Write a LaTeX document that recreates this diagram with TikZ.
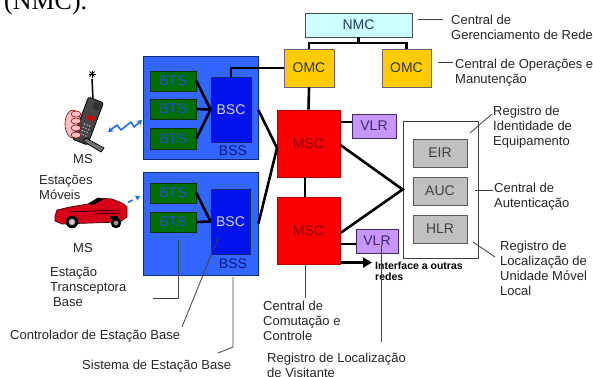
\documentclass[tikz,border=0pt]{standalone}
\usepackage{fontspec}
\setmainfont{Liberation Sans}
\newfontfamily\serifnm{Liberation Serif}
\usetikzlibrary{arrows.meta}
\definecolor{bssblue}{RGB}{51,102,255}
\definecolor{bssedge}{RGB}{20,40,120}
\definecolor{btsgreen}{RGB}{0,110,0}
\definecolor{btsedge}{RGB}{0,50,0}
\definecolor{btstext}{RGB}{40,80,200}
\definecolor{bscblue}{RGB}{0,20,235}
\definecolor{bsctext}{RGB}{215,215,255}
\definecolor{bsslabel}{RGB}{10,20,130}
\definecolor{mscred}{RGB}{250,0,0}
\definecolor{msctext}{RGB}{140,0,0}
\definecolor{vlrpurple}{RGB}{200,150,255}
\definecolor{vlrtext}{RGB}{60,40,110}
\definecolor{omcgold}{RGB}{255,204,0}
\definecolor{nmccyan}{RGB}{204,255,255}
\definecolor{nmctext}{RGB}{30,60,90}
\definecolor{regray}{RGB}{192,192,192}
\definecolor{boltblue}{RGB}{30,110,235}
\definecolor{phonegray}{RGB}{70,70,70}
\definecolor{handpink}{RGB}{250,190,195}
\definecolor{carred}{RGB}{215,0,25}
\tikzset{
  box/.style={draw, rectangle, inner sep=0pt, line width=0.8pt, font=\fontsize{14}{14}\selectfont},
  conn/.style={line width=2.6pt, black},
  lead/.style={line width=0.8pt, black!75},
  lbl/.style={anchor=north west, inner sep=0pt, align=left, font=\fontsize{13}{15}\selectfont, text=black!85},
  bolt/.style={boltblue, line width=1.6pt, line join=round},
}
\begin{document}
\begin{tikzpicture}[x=1pt,y=-1pt]
\useasboundingbox (0,0) rectangle (593,376);
\fill[white] (0,0) rectangle (593,376);

% cut-off heading text
\node[anchor=base west, inner sep=0pt, font=\serifnm\fontsize{26}{26}\selectfont] (head) at (4,9) {(NMC).};

% ---------- upper BSS ----------
\node[box, fill=bssblue, draw=bssedge, minimum width=115pt, minimum height=103pt] (bss1) at (200.5,107.5) {};
\node[box, fill=btsgreen, draw=btsedge, text=btstext, minimum width=46pt, minimum height=20pt] (bts1a) at (173,81) {BTS};
\node[box, fill=btsgreen, draw=btsedge, text=btstext, minimum width=46pt, minimum height=20pt] (bts1b) at (173,109) {BTS};
\node[box, fill=btsgreen, draw=btsedge, text=btstext, minimum width=46pt, minimum height=21pt] (bts1c) at (173,138.5) {BTS};
\node[box, fill=bscblue, draw=bssedge, text=bsctext, minimum width=40pt, minimum height=65pt] (bsc1) at (231,109.5) {BSC};
\node[inner sep=0pt, text=bsslabel, font=\fontsize{14}{14}\selectfont] (bss1l) at (233,151) {BSS};

% ---------- lower BSS ----------
\node[box, fill=bssblue, draw=bssedge, minimum width=115pt, minimum height=103pt] (bss2) at (200.5,223.5) {};
\node[box, fill=btsgreen, draw=btsedge, text=btstext, minimum width=46pt, minimum height=20pt] (bts2a) at (173,193) {BTS};
\node[box, fill=btsgreen, draw=btsedge, text=btstext, minimum width=46pt, minimum height=20pt] (bts2b) at (173,222) {BTS};
\node[box, fill=bscblue, draw=bssedge, text=bsctext, minimum width=39pt, minimum height=65pt] (bsc2) at (230.5,221.5) {BSC};
\node[inner sep=0pt, text=bsslabel, font=\fontsize{14}{14}\selectfont] (bss2l) at (233,264) {BSS};

% ---------- core ----------
\node[box, fill=nmccyan, draw=black!70, text=nmctext, minimum width=107pt, minimum height=24pt] (nmc) at (358.5,25) {NMC};
\node[box, fill=omcgold, draw=black!60, text=black!80, minimum width=50pt, minimum height=38pt] (omc1) at (309,68) {OMC};
\node[box, fill=omcgold, draw=black!60, text=black!80, minimum width=49pt, minimum height=38pt] (omc2) at (406.5,68) {OMC};
\node[box, fill=mscred, draw=red!70!black, text=msctext, minimum width=63pt, minimum height=67pt] (msc1) at (308.5,143.5) {MSC};
\node[box, fill=mscred, draw=red!70!black, text=msctext, minimum width=63pt, minimum height=67pt] (msc2) at (308.5,230.5) {MSC};
\node[box, fill=vlrpurple, draw=vlrtext, text=vlrtext, minimum width=44pt, minimum height=24pt] (vlr1) at (374,126) {VLR};
\node[box, fill=vlrpurple, draw=vlrtext, text=vlrtext, minimum width=42pt, minimum height=24pt] (vlr2) at (377,241) {VLR};
\node[box, fill=white, draw=black!75, minimum width=75pt, minimum height=137pt] (cont) at (440.5,189.5) {};
\node[box, fill=regray, draw=black!65, text=black!75, minimum width=54pt, minimum height=28pt] (eir) at (440,153) {EIR};
\node[box, fill=regray, draw=black!65, text=black!75, minimum width=54pt, minimum height=28pt] (auc) at (440,191) {AUC};
\node[box, fill=regray, draw=black!65, text=black!75, minimum width=54pt, minimum height=28pt] (hlr) at (440,229) {HLR};

% ---------- thick connectors ----------
\coordinate (nmcbus) at (358.5,43);
\coordinate (J) at (277,148);
\coordinate (ifend) at (372,262.5);
\draw[conn] (nmc.south) -- (nmcbus);
\draw[conn] (omc1.north) |- (nmcbus) -| (omc2.north);
\draw[conn] (bsc1.north) |- (omc1.west);
\draw[conn] (omc1.south) -- (msc1.north);
\draw[conn] ([xshift=-3.5pt]msc1.south) -- ([xshift=-3.5pt]msc2.north);
\draw[conn] (bts1a.east) -- (bsc1.west);
\draw[conn] (bts1b.east) -- (bsc1.west);
\draw[conn] (bts1c.east) -- (bsc1.west);
\draw[conn] (bts2a.east) -- (bsc2.west);
\draw[conn] (bts2b.east) -- (bsc2.west);
\draw[conn, line join=miter] ([yshift=-2.5pt]bss1.east) -- (J) -- (bss2.east);
\draw[conn] ([yshift=4pt]msc1.east |- vlr1.west) -- ([yshift=4pt]vlr1.west);
\draw[conn] ([yshift=-3pt]msc2.east |- vlr2.west) -- ([yshift=-3pt]vlr2.west);
\draw[conn, line join=miter] ([yshift=-1.5pt]msc1.east) -- (cont.west) -- ([yshift=-2.5pt]msc2.east);
\draw[conn, -{Triangle[length=9pt,width=10pt]}] (msc2.east |- ifend) -- (ifend);

% ---------- labels ----------
\node[lbl] (tnmc) at (451,15) {Central de\\Gerenciamento de Rede};
\node[lbl] (tomc) at (455,59) {Central de Operações e\\Manutenção};
\node[lbl] (teir) at (493,106) {Registro de\\Identidade de\\Equipamento};
\node[lbl] (tauc) at (494,183) {Central de\\Autenticação};
\node[lbl] (thlr) at (500,241) {Registro de\\Localização de\\Unidade Móvel\\Local};
\node[lbl, font=\fontsize{10.5}{11}\selectfont\bfseries, text=black] (tif) at (375,262) {Interface a outras\\redes};
\node[lbl] (tmsc) at (263,301) {Central de\\Comutação e\\Controle};
\node[lbl] (tvlr) at (267,353) {Registro de Localização\\de Visitante};
\node[lbl] (tbss) at (82,360) {Sistema de Estação Base};
\node[lbl] (tbsc) at (10,330) {Controlador de Estação Base};
\node[lbl] (tbts) at (50,267) {Estação\\Transceptora\\\hspace*{3pt}Base};
\node[lbl] (tms2) at (73,243) {MS};
\node[lbl] (tms1) at (73,154) {MS};
\node[lbl] (tems) at (39,175) {Estações\\Móveis};

% ---------- leader lines ----------
\coordinate (lnmc1) at (418,19); \coordinate (lnmc2) at (443,19);
\coordinate (lomc1) at (438,62); \coordinate (lomc2) at (453,62);
\coordinate (leir1) at (470,133); \coordinate (leir2) at (492,114);
\coordinate (lauc1) at (475,190); \coordinate (lauc2) at (493,190);
\coordinate (lhlr1) at (473,242); \coordinate (lhlr2) at (495,257);
\coordinate (lmsc) at (305,298);
\coordinate (lvlr1) at (381,245); \coordinate (lvlr2) at (381,342);
\coordinate (lbts1) at (178,240); \coordinate (lbts2) at (178,298); \coordinate (lbts3) at (153,298);
\coordinate (lbsc1) at (218,238); \coordinate (lbsc2) at (182,327);
\coordinate (lbss1) at (233,277); \coordinate (lbss2) at (233,347); \coordinate (lbss3) at (218,353);
\draw[lead] (lnmc1) -- (lnmc2);
\draw[lead] (lomc1) -- (lomc2);
\draw[lead] (leir1) -- (leir2);
\draw[lead] (lauc1) -- (lauc2);
\draw[lead] (lhlr1) -- (lhlr2);
\draw[lead] (msc2.south -| lmsc) -- (lmsc);
\draw[lead] (lvlr1) -- (lvlr2);
\draw[lead] (lbts1) -- (lbts2) -- (lbts3);
\draw[lead] (lbsc1) -- (lbsc2);
\draw[lead] (lbss1) -- (lbss2) -- (lbss3);

% ---------- radio bolts ----------
\draw[bolt, {Stealth[length=5pt,width=6pt]}-{Stealth[length=5pt,width=6pt]}]
  (108,132) -- (117,125) -- (121,130) -- (131,122) -- (134,127) -- (142,120);
\draw[bolt, dash pattern=on 5pt off 4pt, -{Stealth[length=5pt,width=6pt]}]
  (102,206) -- (112,204) -- (122,205) -- (129,202) -- (140,196);

% ---------- mobile phone in hand ----------
\fill[handpink, draw=red!50!black, line width=0.6pt] (73,124) ellipse [x radius=8, y radius=14];
\draw[line width=1.5pt] (93,99) -- (92,79);
\foreach \a in {0,45,...,315} \draw[line width=1pt] (92,74) -- ++(\a:3.5);
\filldraw[fill=phonegray, draw=black, line width=0.8pt, rounded corners=2pt]
  (88.5,97) -- (103.5,102.8) -- (87.5,145) -- (72.5,139.2) -- cycle;
\fill[black!80] (97,106) circle (4.5);
\fill[red!85!black] (88,115) -- (95,117.5) -- (93.5,121.5) -- (86.5,119) -- cycle;
\foreach \r in {0,1,2,3} \foreach \c in {0,1,2}
  \fill[black!25] ({84.5+\c*2.6-\r*1.2},{124+\r*3.3+\c*1}) circle (0.8);
\filldraw[fill=black!55, draw=black, line width=0.7pt]
  (83,141) -- (86,138) -- (104,148) -- (101,152) -- cycle;
\foreach \yy in {114,121,128,135}
  \filldraw[fill=handpink, draw=red!50!black, line width=0.5pt] (76,\yy) ellipse [x radius=5, y radius=3];

% ---------- car ----------
\filldraw[fill=carred, draw=red!30!black, line width=0.7pt]
  (55,216) -- (57,210) -- (70,207) -- (88,204) -- (98,198) -- (112,199) -- (122,203)
  -- (127,207) -- (127,217) -- (120,222) -- (62,224) -- (55,221) -- cycle;
\fill[black] (88,204) -- (98,198) -- (104,199) -- (93,205) -- cycle;
\draw[black, line width=0.6pt] (70,212) -- (118,210);
\draw[black, line width=0.6pt] (95,214) -- (120,213);
\fill[black] (110,216) rectangle (118,219);
\filldraw[fill=black, draw=black] (72,222) circle (6);
\filldraw[fill=black!20, draw=black!60] (72,222) circle (3.2);
\filldraw[fill=black, draw=black] (116,223) circle (5);
\filldraw[fill=black!40, draw=black!60] (116,223) circle (2.3);
\end{tikzpicture}
\end{document}
